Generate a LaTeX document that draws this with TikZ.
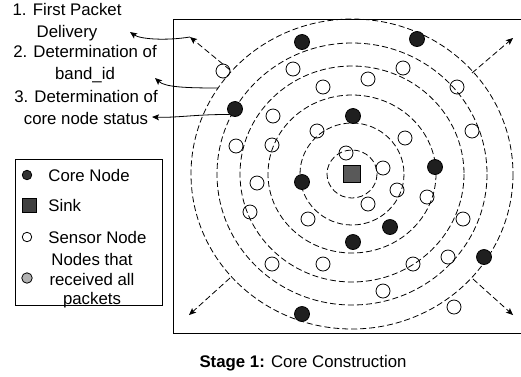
\documentclass[tikz,border=0pt]{standalone}
\usepackage{fontspec}
\setmainfont{Liberation Sans}
\usepackage{tikz}
\usetikzlibrary{arrows.meta}

\begin{document}
\begin{tikzpicture}[x=1pt,y=-1pt,>={Stealth[length=7pt,width=6pt,inset=1.5pt]},line width=0.8pt,
	ring/.style={dash pattern=on 6pt off 3pt},
	core/.style={circle,draw,fill=black!88,minimum size=15pt,inner sep=0pt},
	sensor/.style={circle,draw,minimum size=14pt,inner sep=0pt},
	sink/.style={rectangle,draw,fill=black!65,minimum size=17.5pt,inner sep=0pt},
	lbl/.style={font=\fontsize{16.8}{21.5}\selectfont,align=center,inner sep=0pt}]
	\useasboundingbox (0,0) rectangle (521,376);
	% feld mit senke in der mitte
	\draw (521,19) -| (173,333) -- (521,333);
	\node[sink] (sink) at (352,174) {};
	\foreach \rx/\ry in {161/155, 135/131, 112/108, 84/79, 52/51, 25/24}
		\draw[ring] (sink) ellipse [x radius=\rx, y radius=\ry];
	% kernknoten
	\foreach \x/\y [count=\i] in {302/42, 417/39, 235/109, 353/116, 435/167,
		302/182, 390/227, 353/242, 484/257, 302/314}
		\node[core] (c\i) at (\x,\y) {};
	% sensorknoten
	\foreach \x/\y [count=\i] in {223/71, 293/69, 403/68, 323/87, 368/79, 457/87,
		273/116, 317/131, 405/138, 472/131, 236/146, 272/145, 346/153, 383/168,
		257/183, 397/190, 427/197, 368/204, 250/212, 308/219, 463/219, 272/264,
		323/264, 413/264, 448/257, 383/291, 454/307}
		\node[sensor] (s\i) at (\x,\y) {};
	% pfeile nach aussen
	\coordinate (p1) at (230,70);  \coordinate (q1) at (190,37);
	\coordinate (p2) at (472,73);  \coordinate (q2) at (513,38);
	\coordinate (p3) at (230,278); \coordinate (q3) at (189,315);
	\coordinate (p4) at (473,279); \coordinate (q4) at (513,315);
	\foreach \i in {1,...,4}
		\draw[ring,->] (p\i) -- (q\i);
	% beschriftung links
	\node[lbl] (t1) at (67,22) {1. First Packet\\Delivery};
	\node[lbl] (t2) at (85,64) {2. Determination of\\band\_id};
	\node[lbl] (t3) at (86,107.5) {3. Determination of\\core node status};
	\coordinate (e1) at (130,32);
	\coordinate (e2) at (155,78);
	\coordinate (e3) at (152,117);
	\coordinate (r2) at (218,88);
	\draw[->] (q1) .. controls (165,41) and (140,39) .. (e1);
	\draw[->] (r2) .. controls (185,88) and (165,87) .. (e2);
	\draw[->] (c3.south west) .. controls (200,114) and (175,118) .. (e3);
	% legende
	\draw (15,159) rectangle (162,305);
	\node[circle,draw,fill=black!80,minimum size=9.5pt,inner sep=0pt] (lc) at (27,175) {};
	\node[rectangle,draw,fill=black!75,minimum size=14pt,inner sep=0pt] (ls) at (29,205) {};
	\node[circle,draw,minimum size=9.5pt,inner sep=0pt] (ln) at (27,237) {};
	\node[circle,draw,fill=black!30,minimum size=10.5pt,inner sep=0pt] (lr) at (27,278) {};
	\node[lbl,anchor=west] (tc) at (48,175) {Core Node};
	\node[lbl,anchor=west] (ts) at (48,205) {Sink};
	\node[lbl,anchor=west] (tn) at (48,237) {Sensor Node};
	\node[lbl,font=\fontsize{16.8}{19.5}\selectfont] (tr) at (92,281) {Nodes that\\received all\\packets};
	% unterschrift
	\node[lbl] (cap) at (303,363) {\textbf{Stage 1:} Core Construction};
\end{tikzpicture}
\end{document}
